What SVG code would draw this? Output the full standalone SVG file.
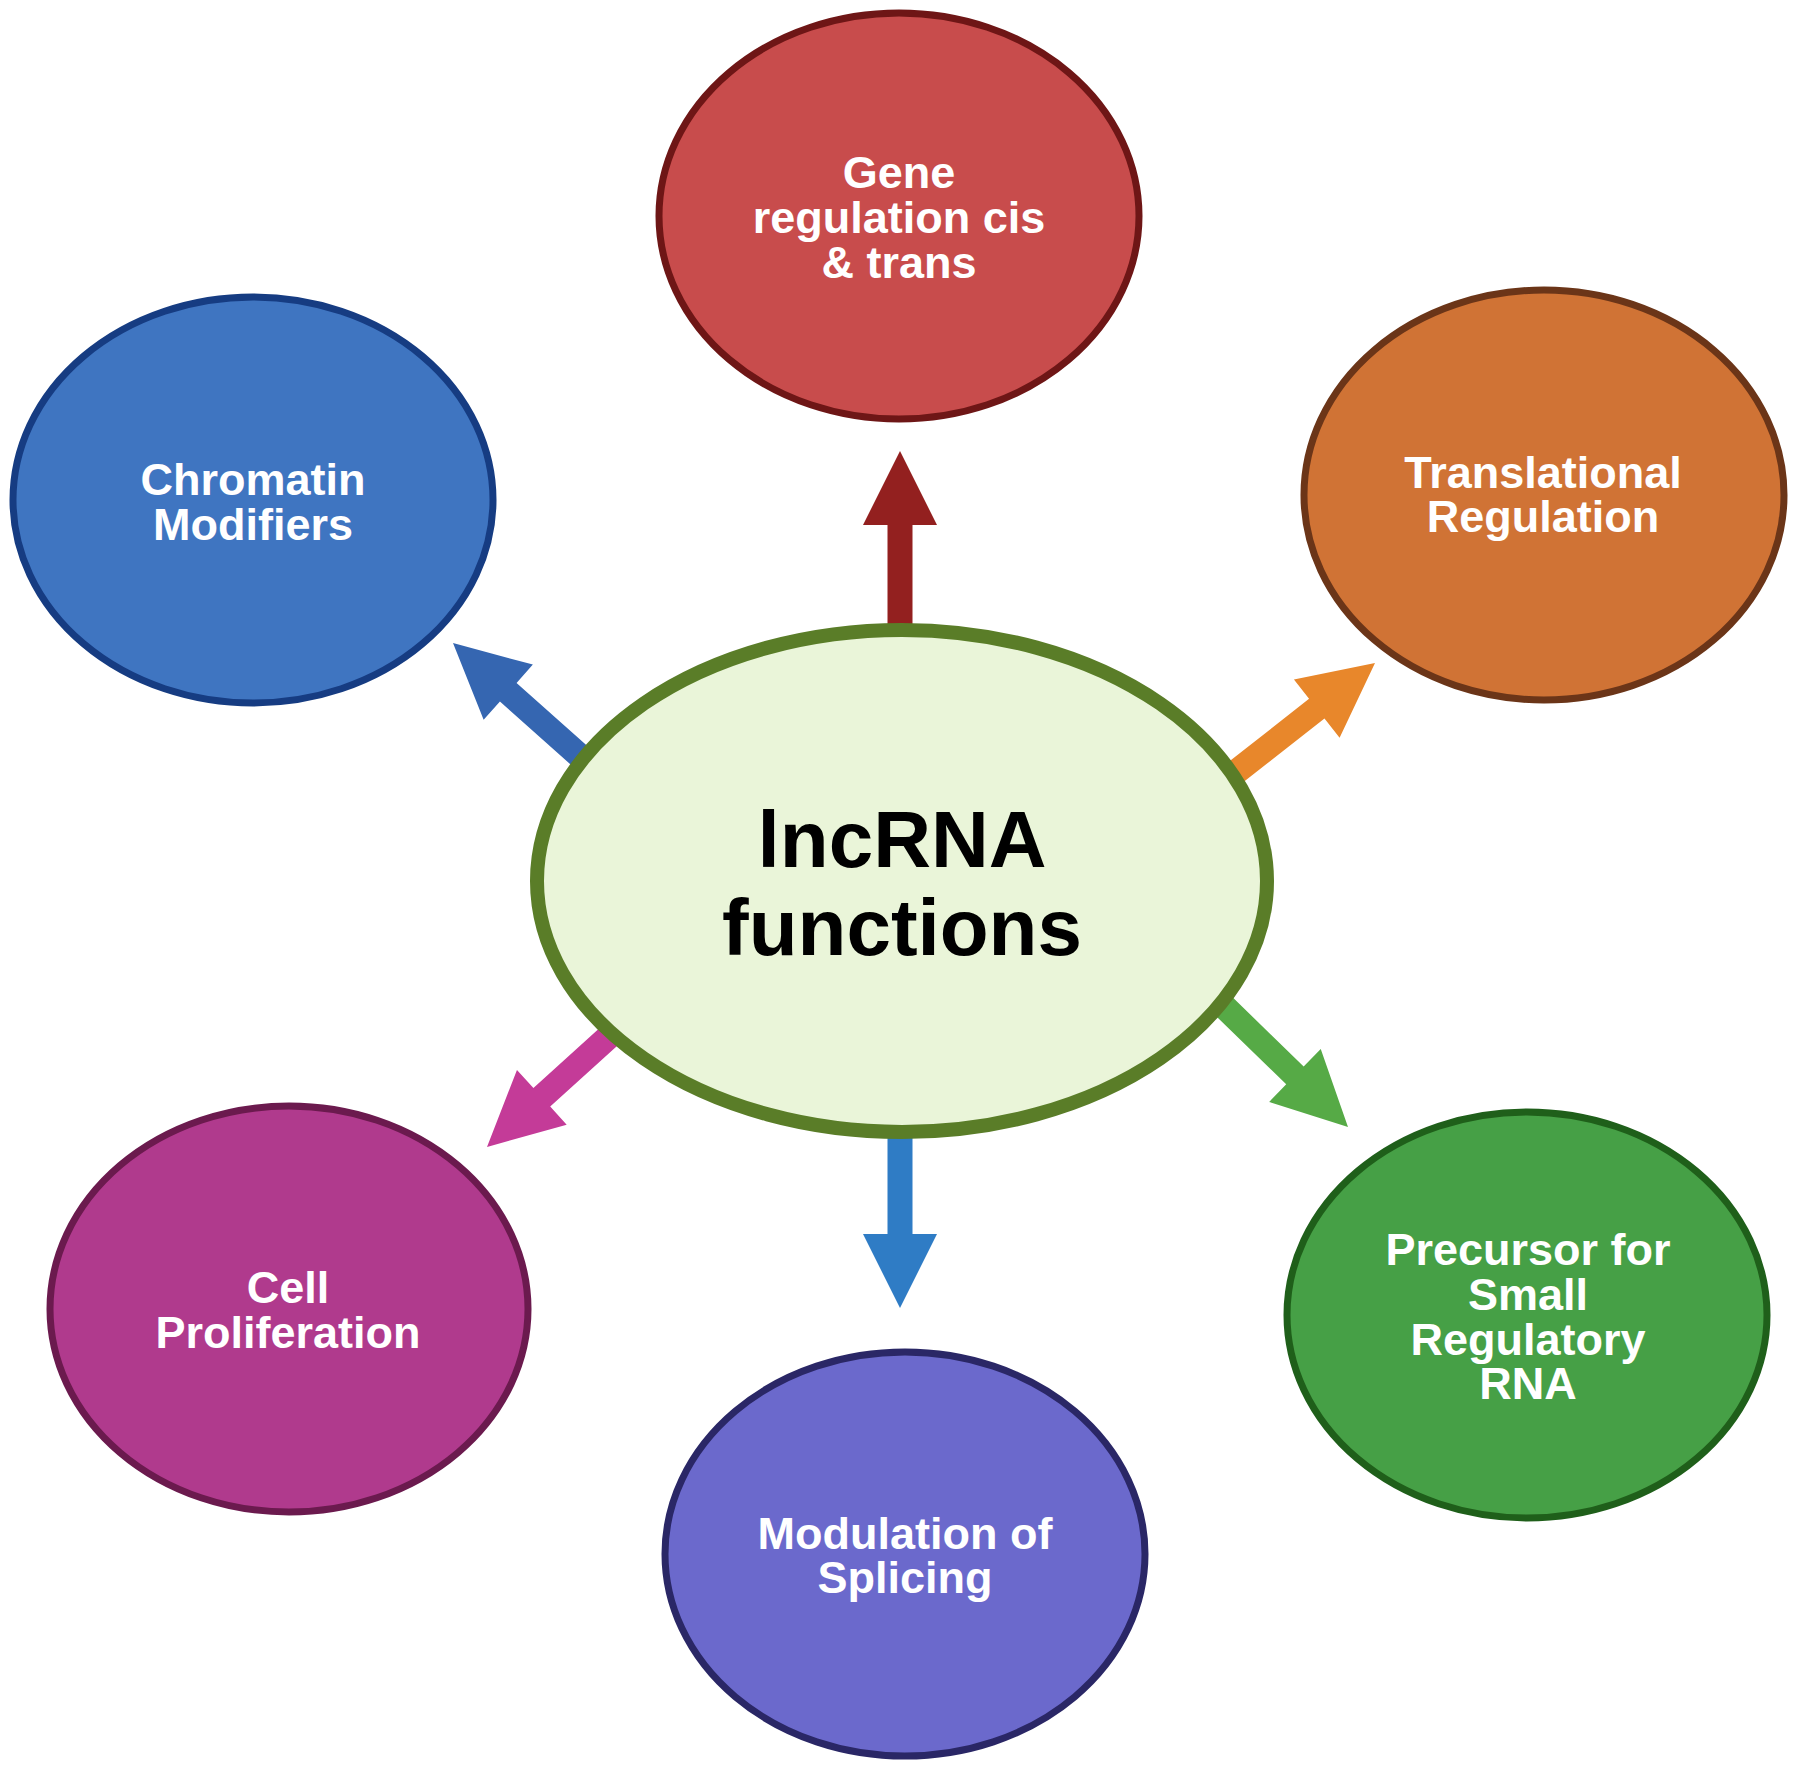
<svg xmlns="http://www.w3.org/2000/svg" width="1800" height="1775" viewBox="0 0 1800 1775">
<style>
.lbl{font-family:"Liberation Sans",Arial,sans-serif;font-weight:bold;font-size:45px;fill:#ffffff;text-anchor:middle}
.title{font-family:"Liberation Sans",Arial,sans-serif;font-weight:bold;font-size:80px;fill:#000000;text-anchor:middle}
.node{stroke-width:7}
</style>
<defs>
<path id="arr" d="M0,0 L-74,-37 L-74,-12.5 L-200,-12.5 L-200,12.5 L-74,12.5 L-74,37 Z"/>
</defs>
<rect x="0" y="0" width="1800" height="1775" fill="#ffffff"/>
<g id="connectors">
<use href="#arr" fill="#93201F" transform="translate(900,451) rotate(-90)"/>
<use href="#arr" fill="#3566B1" transform="translate(453,643) rotate(-138.3)"/>
<use href="#arr" fill="#E8872B" transform="translate(1375,663) rotate(-38.1)"/>
<use href="#arr" fill="#56AA46" transform="translate(1348,1127) rotate(44.2)"/>
<use href="#arr" fill="#C43B98" transform="translate(487,1147) rotate(137.8)"/>
<use href="#arr" fill="#2F7CC5" transform="translate(900,1308) rotate(90)"/>
</g>
<g id="center">
<ellipse cx="902" cy="881" rx="365" ry="251" fill="#EAF5D9" stroke="#5A7D28" stroke-width="14"/>
<text class="title" x="902" y="867">lncRNA</text>
<text class="title" x="902" y="955">functions</text>
</g>
<g id="gene-regulation">
<ellipse class="node" cx="899" cy="216" rx="240" ry="203" fill="#C84C4C" stroke="#6E1616"/>
<text class="lbl" x="899" y="188">Gene</text>
<text class="lbl" x="899" y="233">regulation cis</text>
<text class="lbl" x="899" y="278">&amp; trans</text>
</g>
<g id="chromatin-modifiers">
<ellipse class="node" cx="253" cy="500" rx="240" ry="203" fill="#3F75C1" stroke="#163C82"/>
<text class="lbl" x="253" y="495">Chromatin</text>
<text class="lbl" x="253" y="540">Modifiers</text>
</g>
<g id="translational-regulation">
<ellipse class="node" cx="1544" cy="495" rx="240" ry="205" fill="#D07335" stroke="#6B3518"/>
<text class="lbl" x="1543" y="488">Translational</text>
<text class="lbl" x="1543" y="532">Regulation</text>
</g>
<g id="precursor">
<ellipse class="node" cx="1527" cy="1315" rx="240" ry="203" fill="#46A046" stroke="#1F5F1A"/>
<text class="lbl" x="1528" y="1265">Precursor for</text>
<text class="lbl" x="1528" y="1310">Small</text>
<text class="lbl" x="1528" y="1355">Regulatory</text>
<text class="lbl" x="1528" y="1399">RNA</text>
</g>
<g id="splicing">
<ellipse class="node" cx="905" cy="1554" rx="240" ry="202" fill="#6B69CC" stroke="#2A2766"/>
<text class="lbl" x="905" y="1549">Modulation of</text>
<text class="lbl" x="905" y="1593">Splicing</text>
</g>
<g id="cell-proliferation">
<ellipse class="node" cx="289" cy="1309" rx="239" ry="203" fill="#B03A8D" stroke="#6B1A4E"/>
<text class="lbl" x="288" y="1303">Cell</text>
<text class="lbl" x="288" y="1348">Proliferation</text>
</g>
</svg>
